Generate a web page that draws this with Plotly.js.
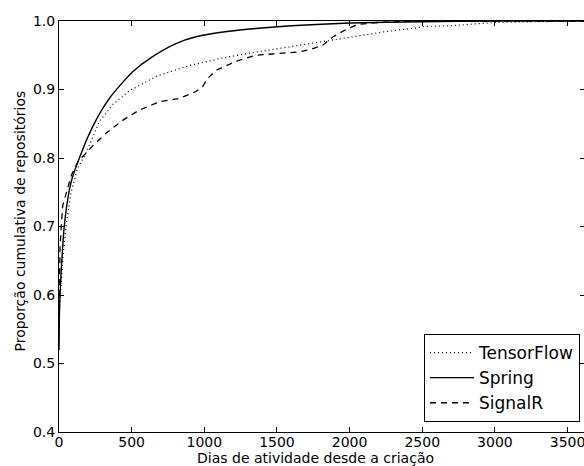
<!DOCTYPE html>
<html>
<head>
<meta charset="utf-8">
<script src="https://cdn.plot.ly/plotly-3.0.1.min.js"></script>
<style>html,body{margin:0;padding:0;overflow:hidden;background:#fff;}#chart{width:592px;height:466px;}</style>
</head>
<body>
<div id="chart"></div>
<script>
// TensorFlow (dotted)
var tfDays = [0, 2, 10, 25, 48, 83, 128, 186, 277, 369, 484, 667, 896, 1126, 1309, 1543, 1864, 2001, 2231, 2460, 2510, 2689, 3011, 3300, 3620];
var tfProp = [0.52, 0.57, 0.60, 0.65, 0.70, 0.75, 0.785, 0.807, 0.853, 0.878, 0.898, 0.919, 0.935, 0.946, 0.953, 0.961, 0.972, 0.977, 0.984, 0.990, 0.992, 0.993, 0.998, 0.999, 1.0];
// Spring (solid)
var springDays = [0, 2, 5, 14, 36, 71, 94, 135, 197, 254, 300, 350, 420, 507, 644, 805, 942, 1171, 1355, 1600, 2000, 2500, 3000, 3620];
var springProp = [0.52, 0.56, 0.59, 0.63, 0.70, 0.753, 0.773, 0.797, 0.83, 0.855, 0.872, 0.888, 0.906, 0.926, 0.948, 0.967, 0.977, 0.985, 0.989, 0.993, 0.997, 0.999, 1.0, 1.0];
// SignalR (dashed)
var signalrDays = [0, 3, 7, 25, 50, 85, 131, 234, 323, 438, 553, 690, 828, 942, 988, 1022, 1080, 1217, 1355, 1543, 1658, 1738, 1818, 1887, 1979, 2059, 2200, 2500, 3620];
var signalrProp = [0.55, 0.63, 0.67, 0.73, 0.75, 0.775, 0.795, 0.818, 0.836, 0.855, 0.870, 0.882, 0.887, 0.897, 0.904, 0.916, 0.928, 0.941, 0.950, 0.953, 0.955, 0.959, 0.965, 0.977, 0.988, 0.995, 0.998, 1.0, 1.0];

var xTicks = [0, 500, 1000, 1500, 2000, 2500, 3000, 3500];
var yTicks = [0.4, 0.5, 0.6, 0.7, 0.8, 0.9, 1.0];
var yTickText = ["0.4", "0.5", "0.6", "0.7", "0.8", "0.9", "1.0"];
var xTitle = "Dias de atividade desde a criação";
var yTitle = "Proporção cumulativa de repositórios";

var font = "DejaVu Sans, sans-serif";
var traces = [
  {x: tfDays, y: tfProp, name: "TensorFlow", mode: "lines", line: {color: "black", width: 1.2, dash: "1px,3px"}},
  {x: springDays, y: springProp, name: "Spring", mode: "lines", line: {color: "black", width: 1.4, shape: "spline", smoothing: 0.6}},
  {x: signalrDays, y: signalrProp, name: "SignalR", mode: "lines", line: {color: "black", width: 1.3, dash: "6px,5px"}}
];
var layout = {
  width: 592, height: 466,
  margin: {l: 59, r: 7, t: 21, b: 34, pad: 0},
  paper_bgcolor: "white", plot_bgcolor: "white",
  font: {family: font, color: "black", size: 14},
  showlegend: true,
  legend: {x: 0.9905, y: 0.0243, xanchor: "right", yanchor: "bottom", bordercolor: "black", borderwidth: 1, bgcolor: "white", itemwidth: 44, font: {family: font, size: 17, color: "black"}},
  xaxis: {
    range: [0, 3620], tickvals: xTicks, ticktext: xTicks.map(String),
    ticks: "inside", ticklen: 5, tickcolor: "black", tickwidth: 1,
    showline: true, linecolor: "black", linewidth: 1, mirror: "ticks",
    showgrid: false, zeroline: false, ticklabelstandoff: -3,
    tickfont: {family: font, size: 14, color: "black"}
  },
  yaxis: {
    range: [0.4, 1.0], tickvals: yTicks, ticktext: yTickText,
    ticks: "inside", ticklen: 5, tickcolor: "black", tickwidth: 1,
    showline: true, linecolor: "black", linewidth: 1, mirror: "ticks",
    showgrid: false, zeroline: false,
    tickfont: {family: font, size: 14, color: "black"}
  },
  annotations: [
    {text: xTitle, xref: "paper", yref: "paper", x: (315 - 59) / 526, y: (432 - 457.5) / 411, xanchor: "center", yanchor: "middle", showarrow: false, borderpad: 0, font: {family: font, size: 14, color: "black"}},
    {text: yTitle, xref: "paper", yref: "paper", x: (19 - 59) / 526, y: (432 - 221.5) / 411, xanchor: "center", yanchor: "middle", textangle: -90, showarrow: false, font: {family: font, size: 14, color: "black"}}
  ]
};
Plotly.newPlot("chart", traces, layout, {displayModeBar: false, staticPlot: true});
</script>
</body>
</html>
